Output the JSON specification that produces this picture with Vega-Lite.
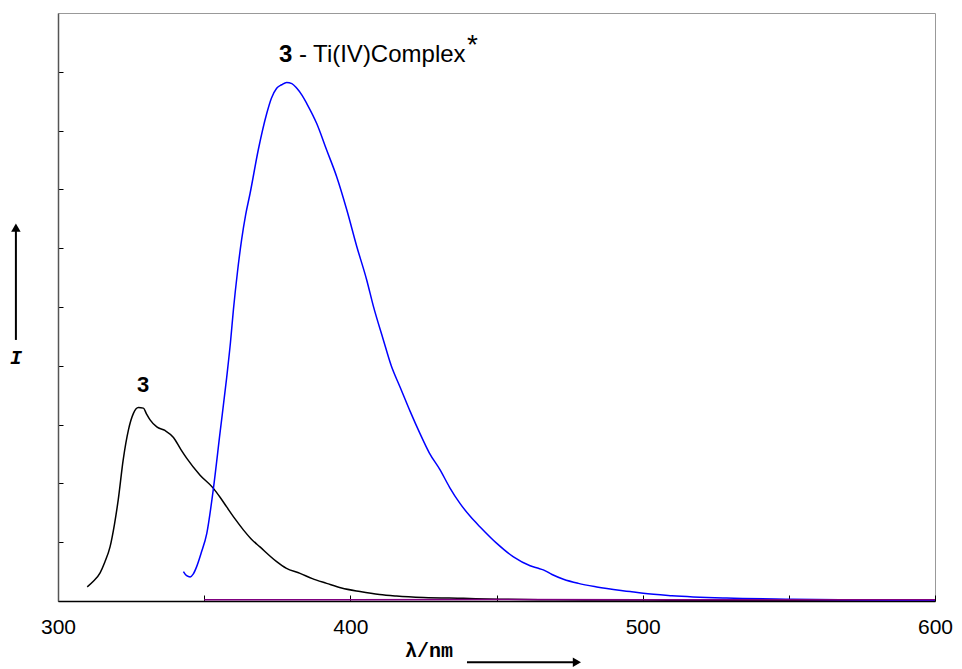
{
  "$schema": "https://vega.github.io/schema/vega-lite/v6.json",
  "width": 877,
  "height": 588,
  "autosize": {"type": "none"},
  "padding": {"left": 58, "top": 13, "right": 27, "bottom": 68},
  "background": "white",
  "config": {
    "view": {"stroke": "#999", "strokeWidth": 1},
    "font": "Liberation Sans"
  },
  "datasets": {
    "spectra": [
      {"x": 310.0, "y": 0.24, "s": "3"},{"x": 312.0, "y": 0.33, "s": "3"},{"x": 314.4, "y": 0.48, "s": "3"},{"x": 316.0, "y": 0.66, "s": "3"},{"x": 317.8, "y": 0.92, "s": "3"},{"x": 319.3, "y": 1.3, "s": "3"},{"x": 320.6, "y": 1.72, "s": "3"},{"x": 322.3, "y": 2.4, "s": "3"},{"x": 324.1, "y": 2.91, "s": "3"},{"x": 325.8, "y": 3.19, "s": "3"},{"x": 327.5, "y": 3.29, "s": "3"},{"x": 329.2, "y": 3.28, "s": "3"},{"x": 330.3, "y": 3.18, "s": "3"},{"x": 331.5, "y": 3.08, "s": "3"},{"x": 333.8, "y": 2.96, "s": "3"},{"x": 336.6, "y": 2.9, "s": "3"},{"x": 339.5, "y": 2.78, "s": "3"},{"x": 342.0, "y": 2.58, "s": "3"},{"x": 344.0, "y": 2.43, "s": "3"},{"x": 348.6, "y": 2.14, "s": "3"},{"x": 353.1, "y": 1.92, "s": "3"},{"x": 355.5, "y": 1.76, "s": "3"},{"x": 357.7, "y": 1.6, "s": "3"},{"x": 360.5, "y": 1.4, "s": "3"},{"x": 363.4, "y": 1.21, "s": "3"},{"x": 366.0, "y": 1.06, "s": "3"},{"x": 369.1, "y": 0.92, "s": "3"},{"x": 374.8, "y": 0.67, "s": "3"},{"x": 378.0, "y": 0.56, "s": "3"},{"x": 382.8, "y": 0.47, "s": "3"},{"x": 387.0, "y": 0.38, "s": "3"},{"x": 391.9, "y": 0.3, "s": "3"},{"x": 397.0, "y": 0.22, "s": "3"},{"x": 403.3, "y": 0.16, "s": "3"},{"x": 410.0, "y": 0.11, "s": "3"},{"x": 415.8, "y": 0.085, "s": "3"},{"x": 425.0, "y": 0.06, "s": "3"},{"x": 438.7, "y": 0.045, "s": "3"},{"x": 451.0, "y": 0.03, "s": "3"},{"x": 470.0, "y": 0.02, "s": "3"},{"x": 500.0, "y": 0.015, "s": "3"},{"x": 550.0, "y": 0.01, "s": "3"},{"x": 600.0, "y": 0.01, "s": "3"},
      {"x": 342.9, "y": 0.5, "s": "3 - Ti(IV)Complex"},{"x": 344.0, "y": 0.43, "s": "3 - Ti(IV)Complex"},{"x": 345.2, "y": 0.41, "s": "3 - Ti(IV)Complex"},{"x": 346.3, "y": 0.46, "s": "3 - Ti(IV)Complex"},{"x": 347.4, "y": 0.58, "s": "3 - Ti(IV)Complex"},{"x": 349.0, "y": 0.82, "s": "3 - Ti(IV)Complex"},{"x": 350.9, "y": 1.15, "s": "3 - Ti(IV)Complex"},{"x": 353.1, "y": 1.89, "s": "3 - Ti(IV)Complex"},{"x": 355.4, "y": 2.85, "s": "3 - Ti(IV)Complex"},{"x": 357.7, "y": 3.8, "s": "3 - Ti(IV)Complex"},{"x": 359.0, "y": 4.4, "s": "3 - Ti(IV)Complex"},{"x": 360.0, "y": 4.95, "s": "3 - Ti(IV)Complex"},{"x": 361.4, "y": 5.6, "s": "3 - Ti(IV)Complex"},{"x": 362.8, "y": 6.14, "s": "3 - Ti(IV)Complex"},{"x": 364.2, "y": 6.57, "s": "3 - Ti(IV)Complex"},{"x": 365.7, "y": 6.93, "s": "3 - Ti(IV)Complex"},{"x": 368.5, "y": 7.67, "s": "3 - Ti(IV)Complex"},{"x": 371.4, "y": 8.29, "s": "3 - Ti(IV)Complex"},{"x": 373.0, "y": 8.55, "s": "3 - Ti(IV)Complex"},{"x": 374.8, "y": 8.72, "s": "3 - Ti(IV)Complex"},{"x": 376.5, "y": 8.78, "s": "3 - Ti(IV)Complex"},{"x": 378.2, "y": 8.82, "s": "3 - Ti(IV)Complex"},{"x": 380.0, "y": 8.8, "s": "3 - Ti(IV)Complex"},{"x": 381.7, "y": 8.72, "s": "3 - Ti(IV)Complex"},{"x": 383.5, "y": 8.6, "s": "3 - Ti(IV)Complex"},{"x": 385.1, "y": 8.46, "s": "3 - Ti(IV)Complex"},{"x": 388.5, "y": 8.12, "s": "3 - Ti(IV)Complex"},{"x": 391.9, "y": 7.67, "s": "3 - Ti(IV)Complex"},{"x": 395.3, "y": 7.22, "s": "3 - Ti(IV)Complex"},{"x": 398.8, "y": 6.65, "s": "3 - Ti(IV)Complex"},{"x": 402.2, "y": 6.03, "s": "3 - Ti(IV)Complex"},{"x": 405.6, "y": 5.46, "s": "3 - Ti(IV)Complex"},{"x": 407.9, "y": 5.01, "s": "3 - Ti(IV)Complex"},{"x": 411.3, "y": 4.44, "s": "3 - Ti(IV)Complex"},{"x": 414.0, "y": 4.0, "s": "3 - Ti(IV)Complex"},{"x": 417.0, "y": 3.64, "s": "3 - Ti(IV)Complex"},{"x": 420.5, "y": 3.22, "s": "3 - Ti(IV)Complex"},{"x": 423.8, "y": 2.85, "s": "3 - Ti(IV)Complex"},{"x": 427.0, "y": 2.52, "s": "3 - Ti(IV)Complex"},{"x": 430.7, "y": 2.23, "s": "3 - Ti(IV)Complex"},{"x": 434.0, "y": 1.93, "s": "3 - Ti(IV)Complex"},{"x": 437.5, "y": 1.66, "s": "3 - Ti(IV)Complex"},{"x": 441.0, "y": 1.44, "s": "3 - Ti(IV)Complex"},{"x": 444.4, "y": 1.26, "s": "3 - Ti(IV)Complex"},{"x": 450.1, "y": 0.98, "s": "3 - Ti(IV)Complex"},{"x": 455.8, "y": 0.75, "s": "3 - Ti(IV)Complex"},{"x": 461.5, "y": 0.6, "s": "3 - Ti(IV)Complex"},{"x": 464.0, "y": 0.56, "s": "3 - Ti(IV)Complex"},{"x": 466.0, "y": 0.53, "s": "3 - Ti(IV)Complex"},{"x": 469.0, "y": 0.45, "s": "3 - Ti(IV)Complex"},{"x": 472.9, "y": 0.37, "s": "3 - Ti(IV)Complex"},{"x": 478.0, "y": 0.3, "s": "3 - Ti(IV)Complex"},{"x": 484.3, "y": 0.24, "s": "3 - Ti(IV)Complex"},{"x": 495.7, "y": 0.16, "s": "3 - Ti(IV)Complex"},{"x": 500.2, "y": 0.13, "s": "3 - Ti(IV)Complex"},{"x": 510.0, "y": 0.09, "s": "3 - Ti(IV)Complex"},{"x": 528.7, "y": 0.05, "s": "3 - Ti(IV)Complex"},{"x": 551.5, "y": 0.03, "s": "3 - Ti(IV)Complex"},{"x": 575.0, "y": 0.015, "s": "3 - Ti(IV)Complex"},{"x": 600.0, "y": 0.01, "s": "3 - Ti(IV)Complex"},
      {"x": 350.0, "y": 0.02, "s": "blank"},{"x": 400.0, "y": 0.02, "s": "blank"},{"x": 450.0, "y": 0.025, "s": "blank"},{"x": 500.0, "y": 0.02, "s": "blank"},{"x": 550.0, "y": 0.02, "s": "blank"},{"x": 600.0, "y": 0.02, "s": "blank"}
    ],
    "arrows": [
      {"x": 439.9, "y": -1.04, "x2": 478.0, "y2": -1.04},
      {"x": 285.6, "y": 4.44, "x2": 285.6, "y2": 6.35}
    ],
    "heads": [
      {"x": 477.5, "y": -1.04, "shape": "triangle-right"},
      {"x": 285.6, "y": 6.35, "shape": "triangle-up"}
    ],
    "boldLabels": [{"x": 329.1, "y": 3.67, "t": "3"}],
    "titleBold": [{"x": 375.6, "y": 9.17, "t": "3"}],
    "titleRest": [{"x": 382.4, "y": 9.17, "t": "- Ti(IV)Complex"}],
    "star": [{"x": 439.9, "y": 9.3, "t": "*"}],
    "xtitle": [{"x": 426.9, "y": -0.95, "t": "λ/nm"}],
    "ytitle": [{"x": 285.6, "y": 4.13, "t": "I"}]
  },
  "encoding": {
    "x": {
      "field": "x", "type": "quantitative", "title": null,
      "scale": {"domain": [300, 600], "nice": false, "zero": false},
      "axis": {
        "title": null, "grid": false,
        "values": [300, 350, 400, 450, 500, 550, 600],
        "labelExpr": "datum.value % 100 == 0 ? datum.label : ''",
        "tickSize": -6, "tickColor": "#000", "labelPadding": 21,
        "labelFontSize": 21, "labelFont": "Liberation Sans", "labelColor": "#000",
        "domainColor": "#000", "domainWidth": 1.5, "labelFlush": false, "labelOverlap": false
      }
    },
    "y": {
      "field": "y", "type": "quantitative", "title": null,
      "scale": {"domain": [0, 10], "nice": false},
      "axis": {
        "title": null, "grid": false, "labels": false,
        "values": [0, 1, 2, 3, 4, 5, 6, 7, 8, 9],
        "tickSize": -5, "tickColor": "#000",
        "domainColor": "#555", "domainWidth": 1.5
      }
    }
  },
  "layer": [
    {
      "data": {"name": "spectra"},
      "mark": {"type": "line", "strokeWidth": 1.5, "clip": true, "interpolate": "monotone"},
      "encoding": {
        "color": {
          "field": "s", "type": "nominal",
          "scale": {"domain": ["3", "3 - Ti(IV)Complex", "blank"], "range": ["#000000", "#0000ff", "#800080"]},
          "legend": null
        },
        "strokeWidth": {
          "field": "s", "type": "nominal",
          "scale": {"domain": ["3", "3 - Ti(IV)Complex", "blank"], "range": [1.5, 1.5, 2]},
          "legend": null
        }
      }
    },
    {
      "data": {"name": "arrows"},
      "mark": {"type": "rule", "strokeWidth": 2, "color": "#000", "clip": false},
      "encoding": {
        "x2": {"field": "x2"},
        "y2": {"field": "y2"}
      }
    },
    {
      "data": {"name": "heads"},
      "mark": {"type": "point", "filled": true, "color": "#000", "size": 90, "opacity": 1, "clip": false},
      "encoding": {
        "shape": {"field": "shape", "type": "nominal", "scale": null, "legend": null}
      }
    },
    {
      "data": {"name": "boldLabels"},
      "mark": {"type": "text", "font": "Liberation Sans", "fontWeight": "bold", "fontSize": 22, "align": "center", "baseline": "middle", "color": "#000"},
      "encoding": {"text": {"field": "t"}}
    },
    {
      "data": {"name": "titleBold"},
      "mark": {"type": "text", "font": "Liberation Sans", "fontWeight": "bold", "fontSize": 24, "align": "left", "baseline": "alphabetic", "color": "#000"},
      "encoding": {"text": {"field": "t"}}
    },
    {
      "data": {"name": "titleRest"},
      "mark": {"type": "text", "font": "Liberation Sans", "fontSize": 24, "align": "left", "baseline": "alphabetic", "color": "#000"},
      "encoding": {"text": {"field": "t"}}
    },
    {
      "data": {"name": "star"},
      "mark": {"type": "text", "font": "Liberation Sans", "fontSize": 28, "align": "left", "baseline": "alphabetic", "color": "#000"},
      "encoding": {"text": {"field": "t"}}
    },
    {
      "data": {"name": "xtitle"},
      "mark": {"type": "text", "font": "Liberation Mono", "fontWeight": "bold", "fontSize": 20, "align": "center", "baseline": "alphabetic", "color": "#000", "clip": false},
      "encoding": {"text": {"field": "t"}}
    },
    {
      "data": {"name": "ytitle"},
      "mark": {"type": "text", "font": "Liberation Mono", "fontWeight": "bold", "fontStyle": "italic", "fontSize": 20, "align": "center", "baseline": "middle", "color": "#000", "clip": false},
      "encoding": {"text": {"field": "t"}}
    }
  ]
}
